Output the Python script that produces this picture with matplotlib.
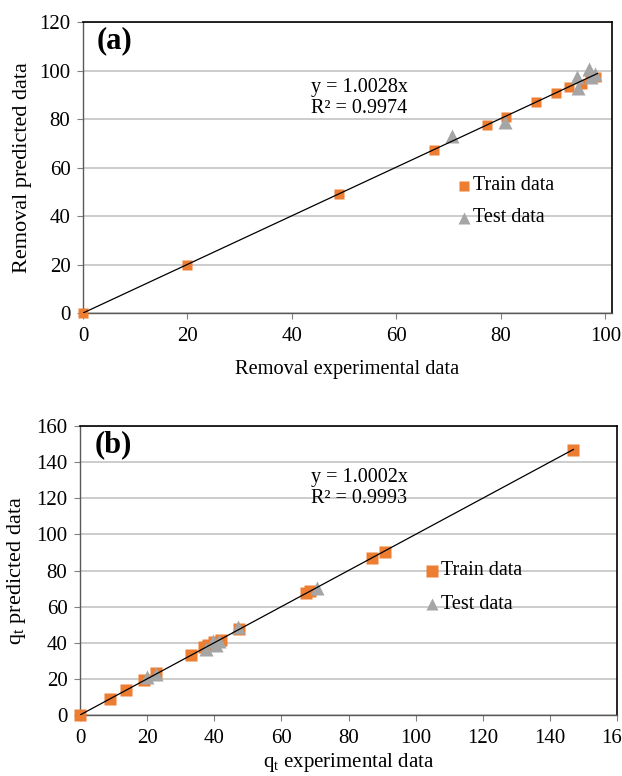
import matplotlib
matplotlib.use("Agg")
import matplotlib.pyplot as plt
import numpy as np

plt.rcParams['font.family'] = ['Liberation Serif', 'DejaVu Serif']

# panel (a) - removal
a_train_x = [0, 20, 49, 67.3, 77.3, 81, 86.7, 90.5, 93, 95.5, 97, 98.2]
a_train_y = [0, 20, 49, 67.3, 77.5, 81, 87, 90.7, 93.3, 94.5, 97, 97.5]
a_test_x = [70.7, 80.8, 94.5, 94.8, 96.8, 97.3, 98]
a_test_y = [72.8, 78.7, 97.5, 92.8, 100.5, 97.5, 98.5]
a_slope = 1.0028
a_xmax_fit = 98.5

# panel (b) - qt
b_train_x = [0, 9, 13.7, 19, 22.5, 33, 37, 38, 40, 42, 47.3, 67.3, 68.5, 87, 90.8, 147]
b_train_y = [0, 8.8, 13.8, 19.5, 23, 33, 37.5, 38.5, 40.5, 41.5, 47.5, 67.5, 68.5, 86.8, 90.5, 147]
b_test_x = [20, 22.7, 37.5, 39.5, 40.5, 41.5, 47, 70.5]
b_test_y = [21, 22.5, 36.5, 41, 38.5, 41, 48.5, 70.5]
b_slope = 1.0002
b_xmax_fit = 147

orange = '#ED7D31'
grey = '#A5A5A5'

fig = plt.figure(figsize=(6.22, 7.76), dpi=100)
ax1 = fig.add_axes([0.1334, 0.5966, 0.8506, 0.375])
ax2 = fig.add_axes([0.1286, 0.0786, 0.8634, 0.3724])


def style(ax, xmax, ymax, ystep, xstep):
    ax.set_xlim(0, xmax)
    ax.set_ylim(0, ymax)
    ax.set_yticks(np.arange(0, ymax + 1, ystep))
    ax.set_xticks(np.arange(0, (xmax // xstep) * xstep + 1, xstep))
    ax.grid(axis='y', color='#BFBFBF', lw=1.1)
    ax.set_axisbelow(True)
    for s in ['top', 'right']:
        ax.spines[s].set_color('black')
        ax.spines[s].set_linewidth(1.2)
    for s in ['left', 'bottom']:
        ax.spines[s].set_color('#595959')
        ax.spines[s].set_linewidth(1.0)
    ax.tick_params(axis='x', direction='out', length=4, width=0.8, color='#808080',
                   labelsize=15, pad=6)
    ax.tick_params(axis='y', direction='out', length=4, width=0.8, color='#808080',
                   labelsize=15, pad=5)


style(ax1, 101.3, 120, 20, 20)
ax1.plot(a_train_x, a_train_y, 's', color=orange, ms=7.5, mec='none', zorder=3, clip_on=False)
ax1.plot(a_test_x, a_test_y, '^', color=grey, ms=10, mec='none', zorder=4, clip_on=False)
fx = np.array([0, a_xmax_fit])
ax1.plot(fx, a_slope * fx, color='black', lw=0.9, zorder=5)
ax1.text(0.025, 0.935, '(a)', transform=ax1.transAxes, fontsize=22, fontweight='bold', va='center')
ax1.text(0.431, 0.738, 'y = 1.0028x\nR² = 0.9974', transform=ax1.transAxes, fontsize=14.5,
         va='center', linespacing=1.12)
ax1.plot([0.72], [0.437], 's', color=orange, ms=7, mec='none', transform=ax1.transAxes)
ax1.text(0.738, 0.437, 'Train data', transform=ax1.transAxes, fontsize=14.5, va='center')
ax1.plot([0.72], [0.327], '^', color=grey, ms=8, mec='none', transform=ax1.transAxes)
ax1.text(0.738, 0.327, 'Test data', transform=ax1.transAxes, fontsize=14.5, va='center')
ax1.set_xlabel('Removal experimental data', fontsize=14.7, labelpad=10)
ax1.set_ylabel('Removal predicted data', fontsize=16, labelpad=5)

style(ax2, 160, 160, 20, 20)
ax2.plot(b_train_x, b_train_y, 's', color=orange, ms=9, mec='none', zorder=3, clip_on=False)
ax2.plot(b_test_x, b_test_y, '^', color=grey, ms=10.5, mec='none', zorder=4, clip_on=False)
fx = np.array([0, b_xmax_fit])
ax2.plot(fx, b_slope * fx, color='black', lw=0.9, zorder=5)
ax2.text(0.028, 0.935, '(b)', transform=ax2.transAxes, fontsize=22, fontweight='bold', va='center')
ax2.text(0.43, 0.785, 'y = 1.0002x\nR² = 0.9993', transform=ax2.transAxes, fontsize=14.5,
         va='center', linespacing=1.12)
ax2.plot([0.655], [0.5], 's', color=orange, ms=9, mec='none', transform=ax2.transAxes)
ax2.text(0.672, 0.5, 'Train data', transform=ax2.transAxes, fontsize=14.5, va='center')
ax2.plot([0.655], [0.383], '^', color=grey, ms=9, mec='none', transform=ax2.transAxes)
ax2.text(0.672, 0.383, 'Test data', transform=ax2.transAxes, fontsize=14.5, va='center')
ax2.set_xlabel('q$_\\mathregular{t}$ experimental data', fontsize=15, labelpad=2)
ax2.set_ylabel('q$_\\mathregular{t}$ predicted data', fontsize=16, labelpad=6)

fig.savefig('out.png', dpi=100)
